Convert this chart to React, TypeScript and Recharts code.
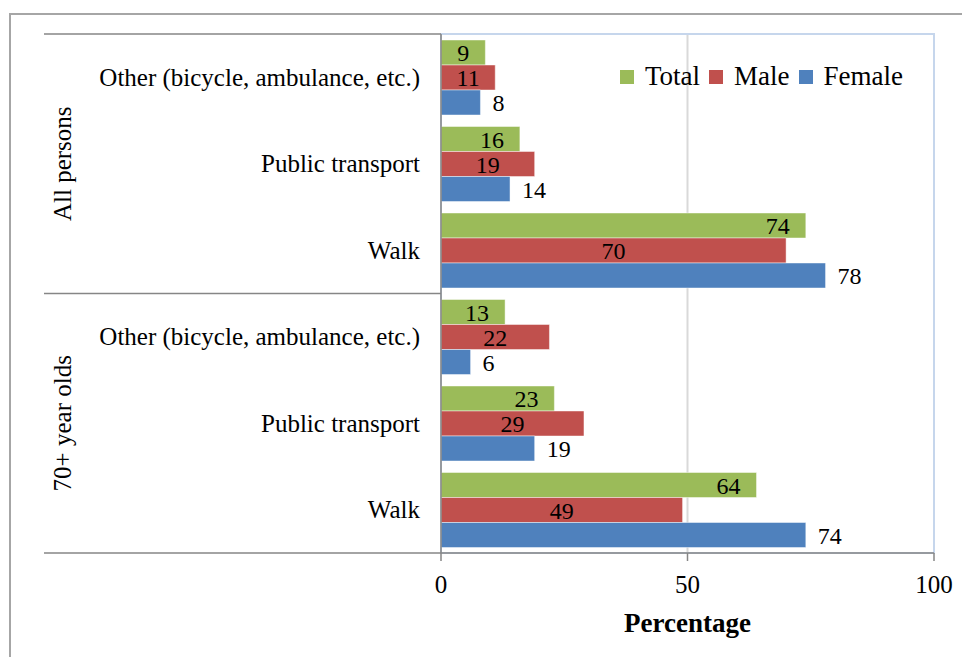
import { BarChart, Bar, XAxis, YAxis, CartesianGrid, Legend, LabelList, ReferenceArea } from 'recharts';

// groups and categories, top to bottom
const groups = ['All persons', '70+ year olds'];
const categories = ['Other (bicycle, ambulance, etc.)', 'Public transport', 'Walk'];

// values per row (group x category), same order as above
const totalValues = [9, 16, 74, 13, 23, 64];
const maleValues = [11, 19, 70, 22, 29, 49];
const femaleValues = [8, 14, 78, 6, 19, 74];

const xTicks = [0, 50, 100];

const series = [
    { key: 'total', name: 'Total', color: '#9bbb59' },
    { key: 'male', name: 'Male', color: '#c0504d' },
    { key: 'female', name: 'Female', color: '#4f81bd' },
];

const data = groups.flatMap((group, gi) =>
    categories.map((label, ci) => {
        const i = gi * categories.length + ci;
        return {
            key: `${group}|${label}`,
            group,
            label,
            total: totalValues[i],
            male: maleValues[i],
            female: femaleValues[i],
        };
    })
);

const W = 962;
const H = 657;
const MARGIN = { top: 34, right: 28, bottom: 10, left: 44 };
const YAXIS_W = 397;
const XAXIS_H = 94;
const BAND = (H - MARGIN.top - MARGIN.bottom - XAXIS_H) / data.length;
const AXIS_GRAY = '#868686';
const FONT = '"Liberation Serif", "Times New Roman", serif';

function CategoryTick(props: any) {
    const { x, y, payload } = props;
    const i = payload?.index ?? props.index ?? 0;
    const row = data[i];
    const half = payload?.offset || BAND / 2;
    const left = MARGIN.left;
    const axisX = MARGIN.left + YAXIS_W;
    const perGroup = categories.length;
    return (
        <g>
            <text x={x} y={y} textAnchor="end" dominantBaseline="central" fontSize={25} fill="#000">
                {row?.label}
            </text>
            {i % perGroup === 0 && (
                <line x1={left} x2={axisX} y1={y - half} y2={y - half} stroke={AXIS_GRAY} strokeWidth={1.5} />
            )}
            {i === data.length - 1 && (
                <line x1={left} x2={axisX} y1={y + half} y2={y + half} stroke={AXIS_GRAY} strokeWidth={1.5} />
            )}
            {i % perGroup === 1 && (
                <text
                    x={left + 18}
                    y={y}
                    transform={`rotate(-90 ${left + 18} ${y})`}
                    textAnchor="middle"
                    dominantBaseline="central"
                    fontSize={25}
                    fill="#000"
                >
                    {row?.group}
                </text>
            )}
        </g>
    );
}

// legend in series order (Total, Male, Female)
function LegendContent(props: any) {
    const order = series.map((s) => s.name);
    const items = [...(props.payload || [])].sort(
        (a: any, b: any) => order.indexOf(a.value) - order.indexOf(b.value)
    );
    return (
        <div style={{ display: 'flex', alignItems: 'center', fontFamily: FONT, fontSize: 27, color: '#000', whiteSpace: 'nowrap' }}>
            {items.map((entry: any) => (
                <div key={entry.value} style={{ display: 'flex', alignItems: 'center', marginRight: 9 }}>
                    <span style={{ width: 14, height: 14, background: entry.color, display: 'inline-block', marginRight: 11 }} />
                    <span>{entry.value}</span>
                </div>
            ))}
        </div>
    );
}

export default function App() {
    return (
        <div style={{ position: 'absolute', left: 0, top: 0, width: W, height: H, overflow: 'hidden', background: '#fff', fontFamily: FONT }}>
            <div style={{ position: 'absolute', left: 9, top: 13, width: 1000, height: 700, border: '2px solid #a6a6a6' }} />
            <BarChart
                width={W}
                height={H}
                data={data}
                layout="vertical"
                margin={MARGIN}
                barCategoryGap={6}
                barGap={0}
            >
                <CartesianGrid horizontal={false} vertical stroke="#d9d9d9" strokeWidth={2} />
                <ReferenceArea x1={0} x2={100} fill="none" stroke="#c6d6ec" strokeWidth={2} ifOverflow="visible" />
                <XAxis
                    type="number"
                    domain={[0, 100]}
                    ticks={xTicks}
                    height={XAXIS_H}
                    tickSize={8}
                    tickMargin={14}
                    axisLine={{ stroke: AXIS_GRAY, strokeWidth: 1.5 }}
                    tickLine={{ stroke: AXIS_GRAY, strokeWidth: 1.5 }}
                    tick={{ fill: '#000', fontSize: 25 }}
                    label={{ value: 'Percentage', position: 'insideBottom', offset: 15, fill: '#000', fontSize: 27, fontWeight: 'bold' }}
                />
                <YAxis
                    type="category"
                    dataKey="key"
                    width={YAXIS_W}
                    interval={0}
                    tickSize={0}
                    tickMargin={21}
                    axisLine={{ stroke: AXIS_GRAY, strokeWidth: 1.5 }}
                    tickLine={false}
                    tick={<CategoryTick />}
                />
                <Legend
                    layout="vertical"
                    align="center"
                    verticalAlign="middle"
                    content={<LegendContent />}
                    wrapperStyle={{ top: 61, left: 620, width: 'auto' }}
                />
                <Bar dataKey="total" name="Total" fill={series[0].color} stroke="rgba(255,255,255,0.45)" isAnimationActive={false}>
                    <LabelList dataKey="total" position="insideRight" offset={16} fill="#000" fontSize={24} />
                </Bar>
                <Bar dataKey="male" name="Male" fill={series[1].color} stroke="rgba(255,255,255,0.45)" isAnimationActive={false}>
                    <LabelList dataKey="male" position="center" fill="#000" fontSize={24} />
                </Bar>
                <Bar dataKey="female" name="Female" fill={series[2].color} stroke="rgba(255,255,255,0.45)" isAnimationActive={false}>
                    <LabelList dataKey="female" position="right" offset={12} fill="#000" fontSize={24} />
                </Bar>
            </BarChart>
        </div>
    );
}
